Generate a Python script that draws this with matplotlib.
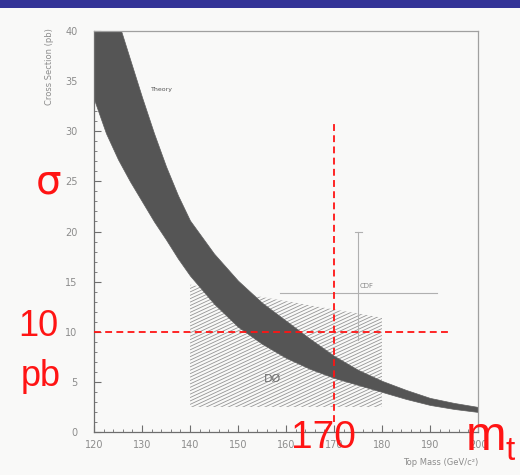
import matplotlib
matplotlib.use("Agg")
import matplotlib.pyplot as plt
import numpy as np
from matplotlib.patches import Polygon, Rectangle
from matplotlib.collections import LineCollection

# Theoretical ttbar cross section band vs top mass
mass = [120, 122.5, 125, 127.5, 130, 132.5, 135, 137.5, 140, 145, 150,
        155, 160, 165, 170, 175, 180, 185, 190, 195, 200]
sigma_high = [49, 45, 41, 37.2, 33.4, 29.8, 26.5, 23.6, 21.1, 17.8, 15.1,
              12.9, 11.1, 9.3, 7.6, 6.2, 5.1, 4.2, 3.4, 2.9, 2.5]
sigma_low = [33.2, 29.8, 27.2, 25.0, 23.0, 21.0, 19.2, 17.3, 15.6, 12.8, 10.5,
             8.8, 7.4, 6.3, 5.4, 4.7, 4.0, 3.3, 2.7, 2.3, 2.0]

# D0 allowed region (hatched)
d0_mass = [140, 180]
d0_sigma_bottom = [2.5, 2.5]
d0_sigma_top = [14.7, 11.4]

# CDF measurement
cdf_mass = 175.1
cdf_mass_range = [158.8, 191.5]
cdf_sigma = 13.9
cdf_sigma_range = [9.2, 20.0]

# Reference point highlighted in red
ref_mass = 170
ref_sigma = 10
ref_vline_span = [1.0, 31.0]
ref_hline_span = [120, 194.5]

x_ticks = [120, 130, 140, 150, 160, 170, 180, 190, 200]
y_ticks = [0, 5, 10, 15, 20, 25, 30, 35, 40]

RED = "#ff1414"
GRAY = "#8c8c8c"
NARROW = ["Liberation Sans Narrow", "Liberation Sans", "DejaVu Sans"]

fig = plt.figure(figsize=(5.2, 4.75), dpi=100, facecolor="#f9f9f8")
fig.patches.append(Rectangle((0, 1 - 8 / 475), 1, 8 / 475, transform=fig.transFigure,
                             facecolor="#343497", edgecolor="none", zorder=0))

ax = fig.add_axes([94 / 520, 43 / 475, 384 / 520, 401 / 475])
ax.set_facecolor("none")
ax.set_xlim(120, 200)
ax.set_ylim(0, 40)

# hatched D0 region
poly_xy = [(d0_mass[0], d0_sigma_bottom[0]), (d0_mass[1], d0_sigma_bottom[1]),
           (d0_mass[1], d0_sigma_top[1]), (d0_mass[0], d0_sigma_top[0])]
d0_patch = Polygon(poly_xy, closed=True, facecolor="none", edgecolor="none")
ax.add_patch(d0_patch)
slope = np.tan(np.radians(25)) * (384 / 80) / (401 / 40)
span = d0_mass[1] - d0_mass[0]
starts = np.arange(min(d0_sigma_bottom) - slope * span, max(d0_sigma_top), 0.34)
segs = [[(d0_mass[0], c), (d0_mass[1], c + slope * span)] for c in starts]
hatch = LineCollection(segs, colors="#959595", linewidths=0.6, zorder=1)
hatch.set_clip_path(d0_patch)
ax.add_collection(hatch)

# theory band
ax.fill_between(mass, sigma_low, sigma_high, color="#555555", lw=0.5,
                edgecolor="#5e5e5e", zorder=2)

# CDF cross
ax.plot(cdf_mass_range, [cdf_sigma, cdf_sigma], color="#b0b0b0", lw=0.8, zorder=3)
ax.plot([cdf_mass, cdf_mass], cdf_sigma_range, color="#b0b0b0", lw=0.8, zorder=3)
ax.plot([cdf_mass - 0.7, cdf_mass + 0.7], [cdf_sigma_range[1]] * 2,
        color="#b0b0b0", lw=0.8, zorder=3)
ax.text(cdf_mass + 0.2, cdf_sigma + 0.4, "CDF", fontsize=5, color="#8a8a8a",
        ha="left", va="bottom", zorder=3)

ax.text(131.8, 34.2, "Theory", fontsize=4.5, color="#555555", ha="left",
        va="center", zorder=3)
ax.text(157.1, 5.3, "DØ", fontsize=8, color="#707070", ha="center",
        va="center", zorder=3)

# red reference lines
ax.plot([ref_mass, ref_mass], ref_vline_span, color=RED, lw=1.3,
        dashes=(3.8, 2.4), zorder=5, clip_on=False)
ax.plot(ref_hline_span, [ref_sigma, ref_sigma], color=RED, lw=1.3,
        dashes=(3.8, 2.4), zorder=5, clip_on=False)

# axes styling
for side in ["top", "right"]:
    ax.spines[side].set_color("#a0a0a0")
    ax.spines[side].set_linewidth(0.9)
for side in ["left", "bottom"]:
    ax.spines[side].set_color("#6e6e6e")
    ax.spines[side].set_linewidth(0.9)

ax.set_xticks(x_ticks)
ax.set_yticks(y_ticks)
ax.set_xticks(np.arange(120, 201, 2), minor=True)
ax.set_yticks(np.arange(0, 41, 1), minor=True)
ax.tick_params(axis="both", which="both", direction="in", colors="#6e6e6e",
               labelcolor=GRAY, labelsize=7)
ax.tick_params(axis="both", which="major", length=5, width=0.8)
ax.tick_params(axis="both", which="minor", length=2.5, width=0.6)
ax.tick_params(axis="y", pad=12)
ax.tick_params(axis="x", pad=6)

ax.text(-0.117, 1.007, "Cross Section (pb)", transform=ax.transAxes,
        rotation=90, fontsize=6, color=GRAY, ha="center", va="top")
ax.text(1.0, -0.075, "Top Mass (GeV/c²)", transform=ax.transAxes,
        fontsize=6, color=GRAY, ha="right", va="center")

# red annotations
fig.text(48 / 520, 1 - 182 / 475, "σ", fontsize=29, color=RED,
         ha="center", va="center", zorder=10)
fig.text(38 / 520, 1 - 327 / 475, "10", fontsize=26, color=RED,
         family=NARROW, ha="center", va="center", zorder=10)
fig.text(41 / 520, 1 - 377 / 475, "pb", fontsize=26, color=RED,
         family=NARROW, ha="center", va="center", zorder=10)
fig.text(323 / 520, 1 - 438 / 475, str(ref_mass), fontsize=28, color=RED,
         family=NARROW, ha="center", va="center", zorder=10)
fig.text(486 / 520, 1 - 437 / 475, "m", fontsize=35, color=RED,
         family=NARROW, ha="center", va="center", zorder=10)
fig.text(510 / 520, 1 - 451 / 475, "t", fontsize=24, color=RED,
         family=NARROW, ha="center", va="center", zorder=10)

fig.savefig("out.png", dpi=100, facecolor=fig.get_facecolor())
